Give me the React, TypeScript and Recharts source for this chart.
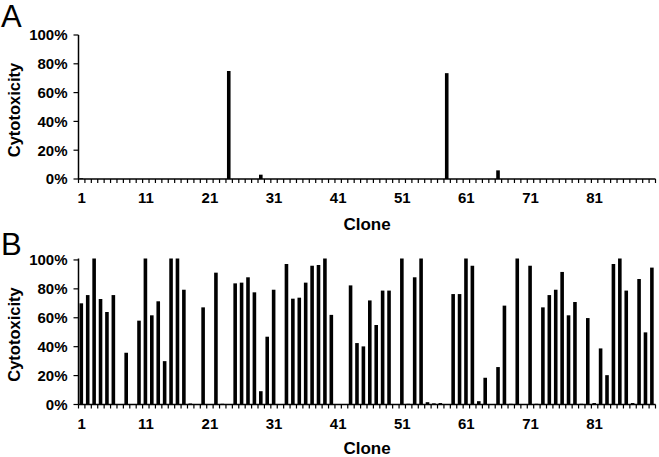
import { BarChart, Bar, XAxis, YAxis } from "recharts";

// clone numbers on the x axis
const clones = Array.from({ length: 90 }, (_, i) => String(i + 1));

// panel A cytotoxicity (%), clone 1..90
const cytotoxicityA = [
  0.5, 0, 0, 0, 0, 0, 0, 0, 0, 0,
  0, 0, 0, 0, 0, 0, 0, 0, 0, 0,
  0, 0, 0, 75, 0, 0, 0, 0, 3, 0,
  0, 0, 0, 0, 0, 0, 0, 0, 0, 0,
  0, 0, 0, 0, 0, 0, 0, 0, 0, 0,
  0, 0, 0, 0, 0, 0, 0, 73.5, 0, 0,
  0, 0, 0, 0, 0, 6, 0, 0, 0, 0,
  0, 0, 0, 0, 0, 0, 0, 0, 0, 0,
  0, 0, 0, 0, 0, 0, 0, 0, 0, 0,
];

// panel B cytotoxicity (%), clone 1..90
const cytotoxicityB = [
  70, 75.7, 101, 73, 64, 75.7, 0, 35.8, 0, 58,
  101, 61.7, 71.4, 30, 101, 101, 79.4, 0.7, 0, 67.2,
  0, 91.2, 0.5, 0, 83.8, 84.3, 88, 77.6, 9.2, 46.9,
  79.4, 0, 97.2, 73.2, 73.9, 84.3, 96, 96.5, 101, 62,
  0, 0, 82.4, 42.5, 40.2, 72, 55, 78.8, 78.8, 0,
  101, 0.5, 88, 101, 1.6, 0.8, 1, 0, 76.4, 76.4,
  101, 96, 2.3, 18.5, 0, 25.9, 68.4, 0.5, 101, 0,
  96, 0.5, 67.2, 75.7, 79.4, 91.7, 61.7, 70.9, 0.5, 59.8,
  1, 38.8, 20.3, 97.2, 101, 78.8, 1, 86.8, 49.9, 94.7,
];

const yTicks = [0, 20, 40, 60, 80, 100];

const FONT = '"Liberation Sans", Arial, sans-serif';
const PLOT_WIDTH = 577;
const HALF_BAND = PLOT_WIDTH / clones.length / 2;

function CloneTick(props: any) {
  const { x, y, payload, index } = props;
  const i = typeof index === "number" ? index : payload.index;
  return (
    <g>
      {i === 0 && (
        <line x1={x - HALF_BAND} x2={x - HALF_BAND} y1={y} y2={y + 4} stroke="#000" strokeWidth={1.2} />
      )}
      <line x1={x + HALF_BAND} x2={x + HALF_BAND} y1={y} y2={y + 4} stroke="#000" strokeWidth={1.2} />
      {i % 10 === 0 && (
        <text x={x} y={y + 24} textAnchor="middle" fontSize={15} fontWeight="bold" fontFamily={FONT} fill="#000">
          {payload.value}
        </text>
      )}
    </g>
  );
}

function Panel({ values, top, height, marginTop, xAxisHeight, titleOffset }: any) {
  const data = clones.map((c, i) => ({ clone: c, value: values[i] }));
  return (
    <div style={{ position: "absolute", left: 0, top }}>
      <BarChart
        width={659}
        height={height}
        data={data}
        margin={{ top: marginTop, right: 3.5, bottom: 0, left: 8.5 }}
        barSize={3.6}
      >
        <XAxis
          dataKey="clone"
          interval={0}
          height={xAxisHeight}
          tickSize={0}
          tickMargin={0}
          tickLine={false}
          axisLine={{ stroke: "#000", strokeWidth: 1.5 }}
          tick={<CloneTick />}
          label={{
            content: (p: any) => {
              const vb = p.viewBox;
              return (
                <text x={vb.x + vb.width / 2} y={vb.y + titleOffset} textAnchor="middle" fontSize={17} fontWeight="bold" fontFamily={FONT} fill="#000">
                  Clone
                </text>
              );
            },
          }}
        />
        <YAxis
          width={70}
          domain={[0, 100]}
          ticks={yTicks}
          tickFormatter={(v: number) => `${v}%`}
          tickSize={5}
          tickMargin={6}
          tick={{ fontSize: 15, fontWeight: "bold", fontFamily: FONT, fill: "#000" }}
          tickLine={{ stroke: "#000", strokeWidth: 1.2 }}
          axisLine={{ stroke: "#000", strokeWidth: 1.5 }}
          label={{
            content: (p: any) => {
              const vb = p.viewBox;
              const cy = vb.y + vb.height / 2 + 3;
              return (
                <text x={14} y={cy} transform={`rotate(-90, 14, ${cy})`} textAnchor="middle" dominantBaseline="central" fontSize={16.5} fontWeight="bold" fontFamily={FONT} fill="#000">
                  Cytotoxicity
                </text>
              );
            },
          }}
        />
        <Bar dataKey="value" fill="#000" isAnimationActive={false} />
      </BarChart>
    </div>
  );
}

export default function App() {
  return (
    <div style={{ position: "absolute", left: 0, top: 0, width: 659, height: 457, background: "#fff", overflow: "hidden" }}>
      <Panel values={cytotoxicityA} top={0} height={235} marginTop={35} xAxisHeight={56} titleOffset={51} />
      <Panel values={cytotoxicityB} top={228} height={229} marginTop={30.5} xAxisHeight={52.5} titleOffset={49.5} />
      <svg width={659} height={457} style={{ position: "absolute", left: 0, top: 0, pointerEvents: "none" }}>
        <text x={1} y={27} fontSize={31} fontFamily={FONT} fill="#000">A</text>
        <text x={1} y={255} fontSize={31} fontFamily={FONT} fill="#000">B</text>
      </svg>
    </div>
  );
}
